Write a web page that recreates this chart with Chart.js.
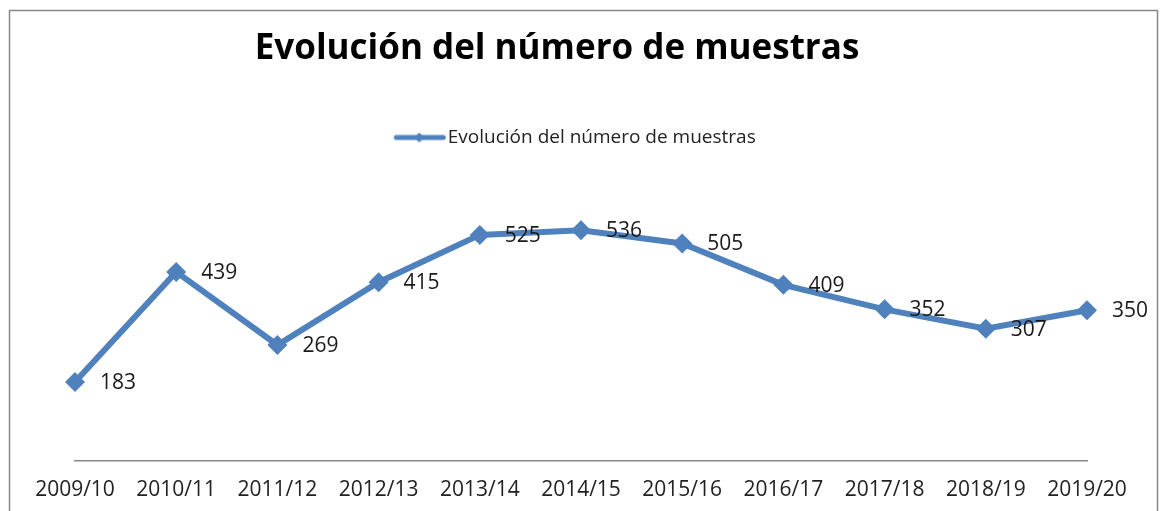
<!DOCTYPE html>
<html>
<head>
<meta charset="utf-8">
<script src="https://cdn.jsdelivr.net/npm/chart.js@4.4.0/dist/chart.umd.min.js"></script>
<style>
  body { margin: 0; background: #fff; overflow: hidden; }
  #wrap { width: 1162px; height: 511px; }
  canvas { display: block; }
</style>
</head>
<body>
<div id="wrap"><canvas id="myChart" width="1162" height="511"></canvas></div>
<script>
const seasons = ["2009/10", "2010/11", "2011/12", "2012/13", "2013/14", "2014/15", "2015/16", "2016/17", "2017/18", "2018/19", "2019/20"];
const samples = [183, 439, 269, 415, 525, 536, 505, 409, 352, 307, 350];
const seriesName = "Evolución del número de muestras";

const LINE_COLOR = "#4F81BD";

// little line + diamond for the legend
function legendSwatch() {
	const c = document.createElement("canvas");
	c.width = 60;
	c.height = 14;
	const ctx = c.getContext("2d");
	ctx.strokeStyle = LINE_COLOR;
	ctx.lineWidth = 5;
	ctx.lineCap = "round";
	ctx.beginPath();
	ctx.moveTo(4, 7);
	ctx.lineTo(51, 7);
	ctx.stroke();
	ctx.fillStyle = LINE_COLOR;
	ctx.beginPath();
	ctx.moveTo(27, 2);
	ctx.lineTo(32, 7);
	ctx.lineTo(27, 12);
	ctx.lineTo(22, 7);
	ctx.closePath();
	ctx.fill();
	return c;
}

const frame = {
	id: "frame",
	beforeDraw(chart) {
		const ctx = chart.ctx;
		ctx.save();
		ctx.fillStyle = "#fff";
		ctx.fillRect(0, 0, chart.width, chart.height);
		ctx.strokeStyle = "#888";
		ctx.lineWidth = 1.5;
		ctx.strokeRect(9.5, 10.5, 1148, 600);
		ctx.restore();
	}
};

// title drawn by hand so it can sit a little left of centre like the original
const chartTitle = {
	id: "chartTitle",
	afterDraw(chart) {
		const ctx = chart.ctx;
		ctx.save();
		ctx.font = "bold 35px 'Open Sans'";
		ctx.fillStyle = "#000";
		ctx.textAlign = "center";
		ctx.textBaseline = "middle";
		ctx.fillText(seriesName, 557, 49);
		ctx.restore();
	}
};

const valueLabels = {
	id: "valueLabels",
	afterDatasetsDraw(chart) {
		const ctx = chart.ctx;
		const meta = chart.getDatasetMeta(0);
		ctx.save();
		ctx.font = "21px 'Open Sans'";
		ctx.fillStyle = "#1a1a1a";
		ctx.textAlign = "left";
		ctx.textBaseline = "middle";
		meta.data.forEach((pt, i) => {
			ctx.fillText(samples[i], pt.x + 25, pt.y + 1);
		});
		ctx.restore();
	}
};

new Chart("myChart", {
	type: "line",
	data: {
		labels: seasons,
		datasets: [{
			label: seriesName,
			data: samples,
			borderColor: LINE_COLOR,
			backgroundColor: LINE_COLOR,
			borderWidth: 6,
			pointStyle: "rectRot",
			pointRadius: 10,
			pointBorderWidth: 0,
			tension: 0
		}]
	},
	options: {
		responsive: false,
		animation: false,
		layout: {
			// x scale reserves its tick padding twice, so pull the bottom back
			padding: { top: 118, left: 75, right: 75, bottom: -9 }
		},
		plugins: {
			title: { display: false },
			legend: {
				display: true,
				labels: {
					usePointStyle: true,
					pointStyle: legendSwatch(),
					pointStyleWidth: 32,
					color: "#222",
					font: { family: "'Open Sans'", size: 19 },
					padding: 10
				}
			},
			tooltip: { enabled: false }
		},
		scales: {
			x: {
				offset: false,
				grid: { display: false, drawTicks: false },
				border: { display: true, color: "#888", width: 1.5 },
				ticks: {
					color: "#222",
					font: { family: "'Open Sans'", size: 21 },
					padding: 17,
					maxRotation: 0,
					autoSkip: false
				}
			},
			y: {
				display: false,
				min: 0,
				max: 706
			}
		}
	},
	plugins: [frame, chartTitle, valueLabels]
});
</script>
</body>
</html>
